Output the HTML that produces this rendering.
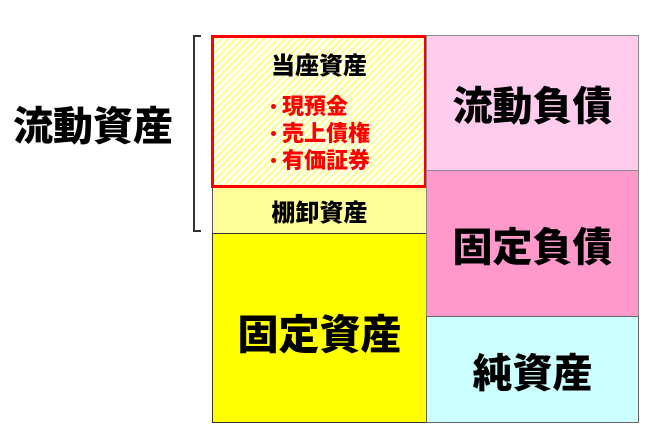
<!DOCTYPE html>
<html><head><meta charset="utf-8"><style>
body{margin:0;width:655px;height:441px;background:#fff;position:relative;overflow:hidden;font-family:"Liberation Sans","Noto Sans CJK JP",sans-serif;font-weight:900}
.b{position:absolute;box-sizing:border-box;display:flex;align-items:center;justify-content:center;color:#000}
.t{position:absolute;white-space:nowrap;line-height:1}
.r{position:absolute;left:68px;font-size:22px;color:#ff0000;line-height:1;white-space:nowrap}
.d{position:absolute;left:57px;width:5px;height:5px;border-radius:50%;background:#ff0000}
</style></head><body>
<div class="t" style="left:13px;top:107px;font-size:40px">流動資産</div>
<div style="position:absolute;left:193px;top:35px;width:8px;height:197px;border:2px solid #333;border-right:none;box-sizing:border-box"></div>
<div class="b" style="left:212px;top:187px;width:215px;height:47px;background:#ffff99;border:1px solid #555;font-size:24px">棚卸資産</div>
<div class="b" style="left:212px;top:233px;width:215px;height:190px;background:#ffff00;border:1px solid #333;font-size:41px;align-items:flex-start;padding-top:67px">固定資産</div>
<div class="b" style="left:211px;top:35px;width:216px;height:153px;border:3px solid #ff0000;background:repeating-linear-gradient(135deg,#ffff88 0 2px,#ffffff 2px 5px);display:block">
<div class="t" style="left:0;width:100%;text-align:center;top:17px;font-size:24px">当座資産</div>
<div class="d" style="top:66px"></div><div class="r" style="top:58px">現預金</div>
<div class="d" style="top:93px"></div><div class="r" style="top:85px">売上債権</div>
<div class="d" style="top:120px"></div><div class="r" style="top:112px">有価証券</div>
</div>
<div class="b" style="left:426px;top:35px;width:213px;height:136px;background:#ffccee;border:1px solid #888;font-size:40px">流動負債</div>
<div class="b" style="left:426px;top:170px;width:213px;height:147px;background:#ff99cc;border:1px solid #888;font-size:40px">固定負債</div>
<div class="b" style="left:426px;top:316px;width:213px;height:107px;background:#ccffff;border:1px solid #666;font-size:40px">純資産</div>
</body></html>
